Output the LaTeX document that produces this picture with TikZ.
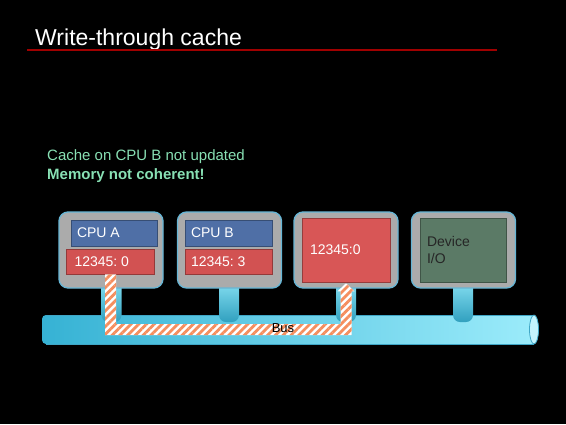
\documentclass[tikz,border=0pt]{standalone}
\usepackage{fontspec}
\setmainfont{Liberation Sans}
\usetikzlibrary{positioning, calc, patterns.meta}
\frenchspacing

\definecolor{titlered}{HTML}{A00000}
\definecolor{notegreen}{HTML}{88E0B4}
\definecolor{boxgray}{HTML}{ABABAB}
\definecolor{boxrim}{HTML}{66B6D6}
\definecolor{cpublue}{HTML}{4F6FA6}
\definecolor{cachered}{HTML}{D25252}
\definecolor{memred}{HTML}{D85656}
\definecolor{devgreen}{HTML}{5B7A66}
\definecolor{busdark}{HTML}{36B2D4}
\definecolor{buslight}{HTML}{9CECFB}
\definecolor{busedge}{HTML}{3FA6C6}
\definecolor{hatchorange}{HTML}{F58E5E}

\tikzset{
  unit/.style={draw=boxrim, line width=1.3pt, fill=boxgray, rounded corners=9pt,
    minimum width=104pt, minimum height=76pt},
  cell/.style={draw=#1!70!black, line width=0.6pt, fill=#1, text=white,
    inner xsep=6pt, align=flush left, font=\fontsize{14}{17}\selectfont\frenchspacing},
  stem/.style={top color=buslight!80!busdark, bottom color=busdark!90!black, rounded corners=7pt},
  hatch/.style={pattern={Lines[angle=45, distance=5.5pt, line width=2.8pt]}, pattern color=hatchorange}
}

\begin{document}
\begin{tikzpicture}[x=1pt, y=-1pt]
\fill[black] (0,0) rectangle (566,424);
\useasboundingbox (0,0) rectangle (566,424);

% Titre
\node[anchor=base west, text=white, font=\fontsize{23}{26}\selectfont, inner sep=0pt] (title) at (35,45) {Write-through cache};
\draw[titlered, line width=2pt] (27,50) -- (497,50);

\node[anchor=base west, text=notegreen, font=\fontsize{15}{18.5}\selectfont, inner sep=0pt] (note) at (47,160.7)
  {Cache on CPU B not updated};
\node[anchor=base west, text=notegreen, font=\fontsize{15}{18.5}\selectfont\bfseries, inner sep=0pt] (warn) at (47,179)
  {Memory not coherent!};

% Bus
\shade[left color=busdark, right color=buslight] (534,315) [rounded corners=4pt] -- (42,315) -- (42,344) [sharp corners] -- (534,344)
  arc[start angle=90, end angle=-90, x radius=4.5, y radius=14.5] -- cycle;
\draw[busedge, line width=0.6pt] (46,315) -- (534,315) (46,344) -- (534,344);
\filldraw[fill=buslight!60!white, draw=busedge, line width=0.8pt] (534,329.5) ellipse [x radius=4.5, y radius=14.5];

% Stems
\foreach \sx in {111.5, 229, 346, 463}
  \shade[stem] (\sx-10,280) rectangle (\sx+10,322);

% Units
\node[unit] (boxa) at (111,250) {};
\node[unit] (boxb) at (229.5,250) {};
\node[unit] (boxm) at (346,250) {};
\node[unit] (boxd) at (463.5,250) {};

\node[cell=cpublue, text width=74pt, minimum height=26pt] (cpua) at (114,233) {CPU A};
\node[cell=cachered, text width=72pt, inner xsep=8pt, minimum height=25pt] (reda) at (110.5,261.5) {12345: 0};
\node[cell=cpublue, text width=75pt, minimum height=26pt] (cpub) at (228.5,233) {CPU B};
\node[cell=cachered, text width=75pt, minimum height=25pt] (redb) at (228.5,261.5) {12345: 3};
\node[cell=memred, text width=72pt, inner xsep=8pt, minimum height=64pt] (mem) at (346,250) {12345:0};
\node[cell=devgreen, text=black!85, text width=72pt, inner xsep=7pt, minimum height=64pt] (dev) at (463,250) {Device\\I/O};

% Write path
\coordinate (lane) at (0,329.5);
\path[fill=white] ([xshift=-5.5pt]reda.south) -- ([xshift=-5.5pt,yshift=-5.5pt]reda.south |- lane)
  -- ([xshift=5.5pt,yshift=-5.5pt]mem.south |- lane) -- ([xshift=5.5pt,yshift=-9pt]mem.south)
  -- ([xshift=8.5pt,yshift=-9pt]mem.south) -- ([yshift=-1pt]mem.south) -- ([xshift=-8.5pt,yshift=-9pt]mem.south)
  -- ([xshift=-5.5pt,yshift=-9pt]mem.south) -- ([xshift=-5.5pt,yshift=5.5pt]mem.south |- lane)
  -- ([xshift=5.5pt,yshift=5.5pt]reda.south |- lane) -- ([xshift=5.5pt]reda.south) -- cycle;
\path[hatch] ([xshift=-5.5pt]reda.south) -- ([xshift=-5.5pt,yshift=-5.5pt]reda.south |- lane)
  -- ([xshift=5.5pt,yshift=-5.5pt]mem.south |- lane) -- ([xshift=5.5pt,yshift=-9pt]mem.south)
  -- ([xshift=8.5pt,yshift=-9pt]mem.south) -- ([yshift=-1pt]mem.south) -- ([xshift=-8.5pt,yshift=-9pt]mem.south)
  -- ([xshift=-5.5pt,yshift=-9pt]mem.south) -- ([xshift=-5.5pt,yshift=5.5pt]mem.south |- lane)
  -- ([xshift=5.5pt,yshift=5.5pt]reda.south |- lane) -- ([xshift=5.5pt]reda.south) -- cycle;

\node[font=\fontsize{13}{15}\selectfont, inner sep=0pt] (buslabel) at (283,328.5) {Bus};
\end{tikzpicture}
\end{document}
